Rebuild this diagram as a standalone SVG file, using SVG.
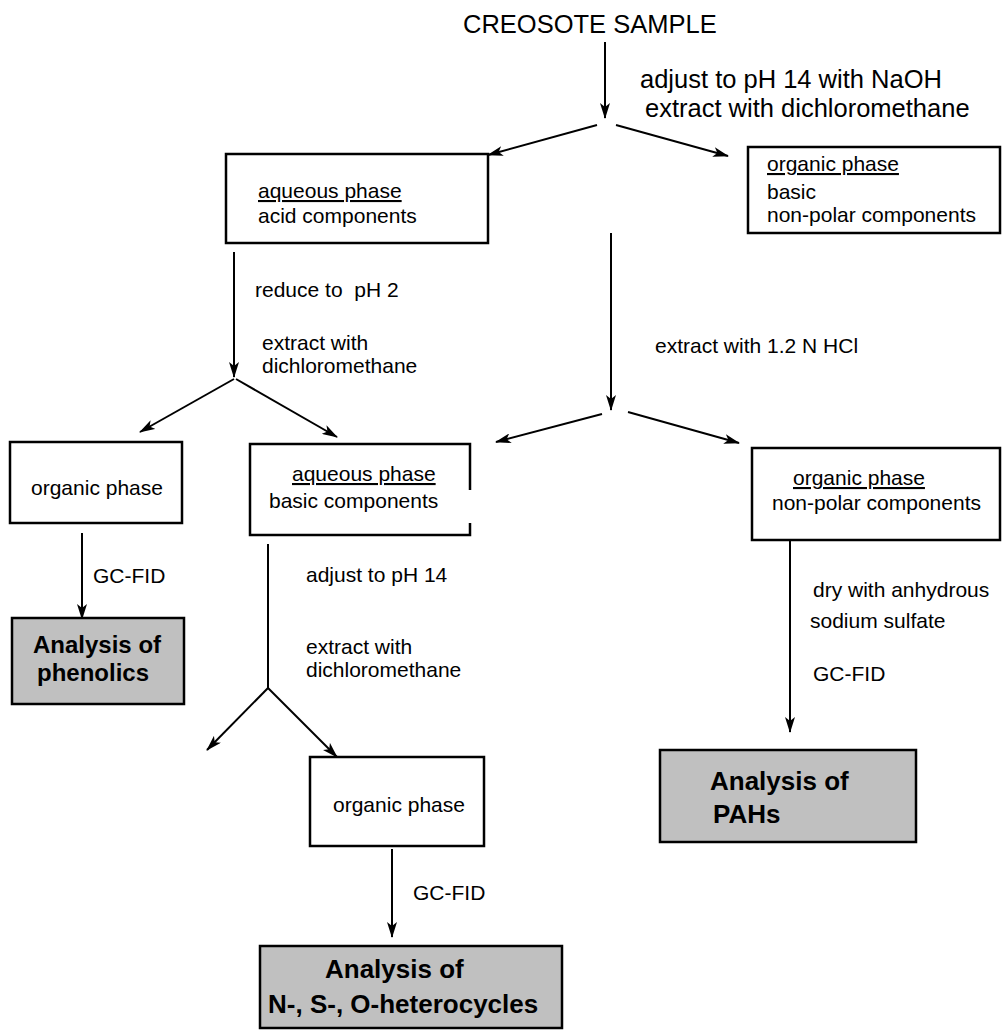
<svg xmlns="http://www.w3.org/2000/svg" width="1002" height="1030" viewBox="0 0 1002 1030">
<style>
text{font-family:"Liberation Sans",Arial,sans-serif;fill:#000}
.t{font-size:21px}
.big{font-size:25.5px}
.b{font-size:26px;font-weight:bold}
.bs{font-size:24px;font-weight:bold}
.u{text-decoration:underline}
.pre{white-space:pre}
.box{fill:#fff;stroke:#000;stroke-width:2.5}
.res{fill:#c0c0c0;stroke:#000;stroke-width:2.5}
.c line,.c path{stroke:#000;stroke-width:2;fill:none}
</style>
<defs>
<marker id="ah" markerUnits="userSpaceOnUse" markerWidth="16" markerHeight="10" viewBox="0 0 16 10" refX="15" refY="5" orient="auto">
<path d="M0,0 L16,5 L0,10 L4,5 z" fill="#000"/>
</marker>
</defs>
<rect width="1002" height="1030" fill="#fff"/>

<g id="connectors" class="c">
<line x1="605" y1="42" x2="605" y2="118" marker-end="url(#ah)"/>
<line x1="597" y1="125" x2="488" y2="155" marker-end="url(#ah)"/>
<line x1="616" y1="125" x2="728" y2="156" marker-end="url(#ah)"/>
<line x1="234" y1="252" x2="234" y2="377" marker-end="url(#ah)"/>
<line x1="234" y1="379" x2="140" y2="432" marker-end="url(#ah)"/>
<line x1="236" y1="379" x2="337" y2="437" marker-end="url(#ah)"/>
<line x1="611" y1="233" x2="611" y2="410" marker-end="url(#ah)"/>
<line x1="602" y1="414" x2="496" y2="442" marker-end="url(#ah)"/>
<line x1="628" y1="412" x2="739" y2="443" marker-end="url(#ah)"/>
<line x1="82" y1="533" x2="82" y2="619" marker-end="url(#ah)"/>
<line x1="268" y1="544" x2="268" y2="688"/>
<line x1="268" y1="688" x2="207" y2="750" marker-end="url(#ah)"/>
<line x1="268" y1="688" x2="337" y2="757" marker-end="url(#ah)"/>
<line x1="392" y1="849" x2="392" y2="937" marker-end="url(#ah)"/>
<line x1="790" y1="540" x2="790" y2="732" marker-end="url(#ah)"/>
<text class="big" x="640" y="88">adjust to pH 14 with NaOH</text>
<text class="big" x="645" y="117">extract with dichloromethane</text>
<text class="t pre" x="255" y="297">reduce to  pH 2</text>
<text class="t" x="262" y="350">extract with</text>
<text class="t" x="262" y="373">dichloromethane</text>
<text class="t" x="655" y="353">extract with 1.2 N HCl</text>
<text class="t" x="93" y="583">GC-FID</text>
<text class="t" x="306" y="582">adjust to pH 14</text>
<text class="t" x="306" y="654">extract with</text>
<text class="t" x="306" y="677">dichloromethane</text>
<text class="t" x="413" y="900">GC-FID</text>
<text class="t" x="813" y="597">dry with anhydrous</text>
<text class="t" x="810" y="628">sodium sulfate</text>
<text class="t" x="813" y="681">GC-FID</text>
</g>

<g id="sample">
<text class="big" x="463" y="33">CREOSOTE SAMPLE</text>
</g>

<g id="aq-acid">
<rect class="box" x="226" y="154" width="262" height="89"/>
<text class="t u" x="258" y="198">aqueous phase</text>
<text class="t" x="258" y="223">acid components</text>
</g>

<g id="org-basic">
<rect class="box" x="748" y="147" width="252" height="86"/>
<text class="t u" x="767" y="171">organic phase</text>
<text class="t" x="767" y="199">basic</text>
<text class="t" x="767" y="222">non-polar components</text>
</g>

<g id="org-left">
<rect class="box" x="10" y="442" width="172" height="81"/>
<text class="t" x="31" y="495">organic phase</text>
</g>

<g id="aq-basic">
<path class="box" d="M470,490 V444 H250 V535 H470 V523"/>
<text class="t u" x="292" y="481">aqueous phase</text>
<text class="t" x="269" y="508">basic components</text>
</g>

<g id="phenolics">
<rect class="res" x="12" y="618" width="172" height="86"/>
<text class="bs" x="33" y="653">Analysis of</text>
<text class="bs" x="37" y="681">phenolics</text>
</g>

<g id="org-mid">
<rect class="box" x="310" y="757" width="174" height="89"/>
<text class="t" x="333" y="812">organic phase</text>
</g>

<g id="heterocycles">
<rect class="res" x="260" y="946" width="302" height="82"/>
<text class="b" x="325" y="978">Analysis of</text>
<text class="b" x="268" y="1013">N-, S-, O-heterocycles</text>
</g>

<g id="org-nonpolar">
<rect class="box" x="752" y="448" width="248" height="92"/>
<text class="t u" x="793" y="485">organic phase</text>
<text class="t" x="772" y="510">non-polar components</text>
</g>

<g id="pahs">
<rect class="res" x="660" y="750" width="256" height="92"/>
<text class="b" x="710" y="790">Analysis of</text>
<text class="b" x="713" y="823">PAHs</text>
</g>
</svg>
